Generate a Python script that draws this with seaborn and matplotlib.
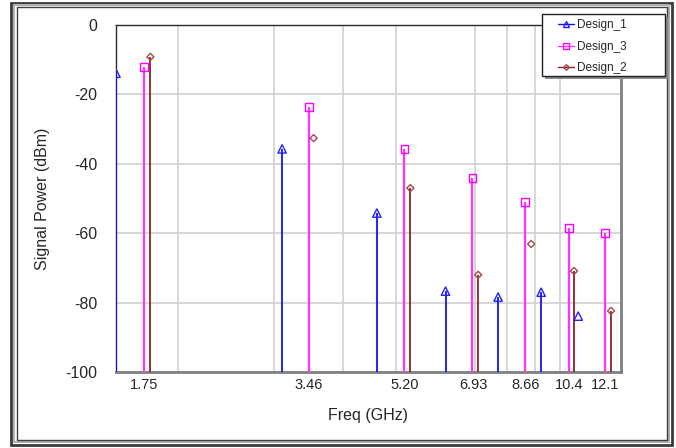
import matplotlib
matplotlib.use("Agg")
import matplotlib.pyplot as plt
import seaborn as sns
import pandas as pd
from matplotlib.lines import Line2D
from matplotlib.patches import Rectangle
from matplotlib.ticker import NullFormatter

# ---- data ----
designs = ["Design_1", "Design_3", "Design_2"]

d1_freq = [1.54, 3.10, 4.62, 6.17, 7.70, 9.23, 10.79]
d1_power = [-13.9, -35.7, -54.2, -76.7, -78.4, -77.0, -83.9]
d1_stem = [True, True, True, True, True, True, False]

d3_freq = [1.734, 3.47, 5.19, 6.91, 8.63, 10.38, 12.08]
d3_power = [-12.1, -23.6, -35.7, -44.1, -51.0, -58.5, -60.0]
d3_stem = [True, True, True, True, True, True, True]

d2_freq = [1.78, 3.54, 5.32, 7.08, 8.85, 10.60, 12.39]
d2_power = [-9.2, -32.6, -47.0, -72.0, -63.1, -70.9, -82.4]
d2_stem = [True, False, True, True, False, True, True]

xtick_vals = [1.733, 3.466, 5.20, 6.93, 8.66, 10.4, 12.1]
xtick_labels = ["1.75", "3.46", "5.20", "6.93", "8.66", "10.4", "12.1"]
xgrid_vals = [2, 3, 4, 5, 7, 8, 9, 10]
ytick_vals = [0, -20, -40, -60, -80, -100]

frames = []
for name, f, p, s in [("Design_1", d1_freq, d1_power, d1_stem),
                      ("Design_3", d3_freq, d3_power, d3_stem),
                      ("Design_2", d2_freq, d2_power, d2_stem)]:
    frames.append(pd.DataFrame({"design": name, "freq": f, "power": p, "stem": s}))
df = pd.concat(frames, ignore_index=True)

styles = {
    "Design_1": dict(line="#1010ff", mark="#2020ff", marker="^", ms=6.0, lw=1.3),
    "Design_3": dict(line="#ff33ff", mark="#ff00ff", marker="s", ms=5.5, lw=1.6),
    "Design_2": dict(line="#8b2323", mark="#a84848", marker="D", ms=3.6, lw=1.3),
}

sns.set_style("white")
plt.rcParams["font.family"] = ["Liberation Sans", "DejaVu Sans"]
plt.rcParams["axes.unicode_minus"] = False

W, H = 676, 448
fig = plt.figure(figsize=(W / 100, H / 100), dpi=100)
ax = fig.add_axes([116 / W, 1 - 372 / H, (621 - 116) / W, (372 - 25) / H])

ax.set_xscale("log")
ax.set_xlim(1.54, 12.92)
ax.set_ylim(-100, 0)

for name in designs:
    st = styles[name]
    sub = df[df["design"] == name]
    stems = sub[sub["stem"]]
    ax.vlines(stems["freq"], -100, stems["power"], colors=st["line"],
              lw=st["lw"], zorder=3)
    sns.scatterplot(data=sub, x="freq", y="power", marker=st["marker"],
                    s=st["ms"] ** 2, ax=ax, legend=False, zorder=4)
    coll = ax.collections[-1]
    coll.set_facecolor("none")
    coll.set_edgecolor(st["mark"])
    coll.set_linewidth(1.0)

ax.set_xticks(xtick_vals, labels=xtick_labels)
ax.set_xticks(xgrid_vals, minor=True)
ax.xaxis.set_minor_formatter(NullFormatter())
ax.set_yticks(ytick_vals)
ax.grid(False)
ax.grid(which="minor", axis="x", color="#cfcfcf", lw=1.2)
ax.grid(which="major", axis="y", color="#cfcfcf", lw=1.2)
ax.set_axisbelow(True)
ax.tick_params(which="both", length=0)
ax.tick_params(axis="x", labelsize=10.5, pad=4.5)
ax.tick_params(axis="y", labelsize=11.5, pad=13.5)

for side in ["top", "left"]:
    ax.spines[side].set_color("#2a2a2a")
    ax.spines[side].set_linewidth(1.0)
for side in ["bottom", "right"]:
    ax.spines[side].set_color("#808080")
    ax.spines[side].set_linewidth(2.0)

ax.set_xlabel("Freq (GHz)", fontsize=11.5, labelpad=11)
ax.set_ylabel("Signal Power (dBm)", fontsize=11.5, labelpad=11)


def px_rect(x0, y0, x1, y1, **kw):
    return Rectangle((x0 / W, 1 - y1 / H), (x1 - x0) / W, (y1 - y0) / H,
                     transform=fig.transFigure, **kw)


# legend box with its grey shadow
fig.add_artist(px_rect(545, 17, 668, 79, facecolor="#8a8a8a", edgecolor="none", zorder=20))
fig.add_artist(px_rect(542, 14, 665, 76, facecolor="white", edgecolor="#202020",
                       lw=1.0, zorder=21))

handles = []
for name in designs:
    st = styles[name]
    handles.append(Line2D([0], [0], color=st["line"], lw=1.0, marker=st["marker"],
                          markersize=st["ms"] * 0.8, markerfacecolor="none",
                          markeredgecolor=st["mark"]))
leg = fig.legend(handles, designs, loc="upper left",
                 bbox_to_anchor=(558 / W, 1 - 19.0 / H),
                 bbox_transform=fig.transFigure,
                 fontsize=8.5, frameon=False,
                 handlelength=1.35, handletextpad=0.3, labelspacing=0.82,
                 borderpad=0, borderaxespad=0)
leg.set_zorder(22)

# window frame around the whole picture
fig.add_artist(px_rect(11, 3, 672, 445, fill=False, edgecolor="#3a3a3a", lw=2.0))
fig.add_artist(px_rect(14, 5, 669, 442, fill=False, edgecolor="#b0b0b0", lw=1.5))
fig.add_artist(px_rect(17, 7, 667, 440, fill=False, edgecolor="#404040", lw=1.0))

fig.savefig("out.png", dpi=100)
